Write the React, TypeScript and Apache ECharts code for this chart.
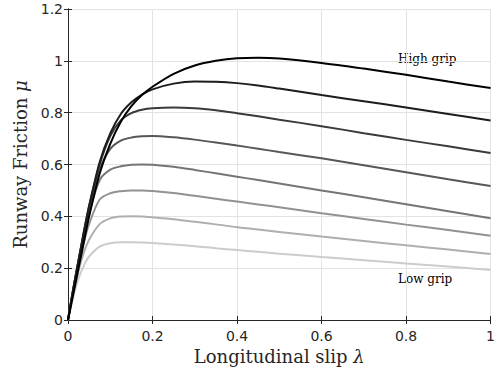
import React, { useEffect, useRef } from "react";
import * as echarts from "echarts";

const slip = [0, 0.0125, 0.025, 0.0375, 0.05, 0.075, 0.1, 0.125, 0.15, 0.175, 0.2, 0.25, 0.3, 0.35, 0.4, 0.45, 0.5, 0.6, 0.7, 0.8, 0.9, 1.0];

const mu1 = [0, 0.1, 0.2, 0.3, 0.4, 0.565, 0.68, 0.765, 0.825, 0.868, 0.9, 0.95, 0.982, 1.0, 1.01, 1.012, 1.009, 0.992, 0.97, 0.946, 0.92, 0.895];
const mu2 = [0, 0.12, 0.23, 0.34, 0.44, 0.61, 0.72, 0.795, 0.84, 0.87, 0.89, 0.912, 0.92, 0.919, 0.914, 0.905, 0.893, 0.868, 0.844, 0.82, 0.795, 0.77];
const mu3 = [0, 0.12, 0.23, 0.34, 0.44, 0.6, 0.71, 0.77, 0.798, 0.811, 0.817, 0.82, 0.817, 0.809, 0.798, 0.786, 0.773, 0.748, 0.721, 0.695, 0.67, 0.644];
const mu4 = [0, 0.12, 0.23, 0.33, 0.43, 0.58, 0.66, 0.692, 0.704, 0.709, 0.71, 0.705, 0.696, 0.685, 0.673, 0.661, 0.648, 0.624, 0.597, 0.57, 0.543, 0.517];
const mu5 = [0, 0.12, 0.23, 0.32, 0.41, 0.54, 0.58, 0.593, 0.599, 0.6, 0.599, 0.591, 0.579, 0.566, 0.553, 0.54, 0.527, 0.5, 0.474, 0.447, 0.42, 0.393];
const mu6 = [0, 0.11, 0.21, 0.3, 0.37, 0.465, 0.489, 0.497, 0.5, 0.5, 0.498, 0.49, 0.479, 0.468, 0.457, 0.446, 0.435, 0.412, 0.39, 0.368, 0.347, 0.325];
const mu7 = [0, 0.1, 0.19, 0.26, 0.31, 0.37, 0.392, 0.399, 0.4, 0.399, 0.396, 0.389, 0.379, 0.369, 0.358, 0.349, 0.34, 0.322, 0.305, 0.288, 0.272, 0.255];
const mu8 = [0, 0.09, 0.16, 0.21, 0.245, 0.283, 0.296, 0.3, 0.3, 0.299, 0.297, 0.291, 0.285, 0.277, 0.27, 0.263, 0.256, 0.243, 0.231, 0.218, 0.206, 0.193];

const curves = [mu1, mu2, mu3, mu4, mu5, mu6, mu7, mu8];
const shades = ["#000000", "#1d1d1d", "#3a3a3a", "#575757", "#757575", "#929292", "#afafaf", "#cccccc"];

const xTicks = { min: 0, max: 1, interval: 0.2 };
const yTicks = { min: 0, max: 1.2, interval: 0.2 };

const highLabel = "High grip";
const lowLabel = "Low grip";

export default function App() {
  const ref = useRef<HTMLDivElement>(null);
  useEffect(() => {
    if (!ref.current) return;
    const chart = echarts.init(ref.current, undefined, { renderer: "svg" });
    const axisColor = "#262626";
    const tickFont = { color: axisColor, fontSize: 14, fontFamily: "DejaVu Sans, sans-serif" };
    const serif = "DejaVu Serif, serif";
    const boxAxis = (extra: any) => ({
      type: "value",
      ...extra,
      axisLine: { show: true, lineStyle: { color: axisColor, width: 1 } },
      axisTick: { show: true, inside: true, length: 4, lineStyle: { color: axisColor } },
      axisLabel: { show: false },
      splitLine: { show: false },
    });
    const nameStyle = {
      fontFamily: serif,
      fontSize: 18,
      color: axisColor,
      rich: { i: { fontFamily: serif, fontStyle: "italic", fontSize: 18, color: axisColor } },
    };
    chart.setOption({
      animation: false,
      backgroundColor: "#ffffff",
      grid: { left: 68, right: 7, top: 9, bottom: 55, containLabel: false },
      xAxis: [
        {
          type: "value",
          ...xTicks,
          position: "bottom",
          name: "Longitudinal slip {i|λ}",
          nameLocation: "middle",
          nameGap: 18,
          nameTextStyle: nameStyle,
          axisLine: { show: true, lineStyle: { color: axisColor, width: 1 } },
          axisTick: { show: true, inside: true, length: 4, lineStyle: { color: axisColor } },
          axisLabel: { ...tickFont, margin: 9 },
          splitLine: { show: true, lineStyle: { color: "#e3e3e3", width: 1 } },
        },
        boxAxis({ ...xTicks, position: "top" }),
      ],
      yAxis: [
        {
          type: "value",
          ...yTicks,
          position: "left",
          name: "Runway Friction {i|μ}",
          nameLocation: "middle",
          nameGap: 28,
          nameTextStyle: nameStyle,
          axisLine: { show: true, lineStyle: { color: axisColor, width: 1 } },
          axisTick: { show: true, inside: true, length: 4, lineStyle: { color: axisColor } },
          axisLabel: { ...tickFont, margin: 5 },
          splitLine: { show: true, lineStyle: { color: "#e3e3e3", width: 1 } },
        },
        boxAxis({ ...yTicks, position: "right" }),
      ],
      series: curves.map((c, i) => ({
        type: "line",
        xAxisIndex: 0,
        yAxisIndex: 0,
        data: slip.map((s, j) => [s, c[j]]),
        showSymbol: false,
        smooth: 0.3,
        lineStyle: { color: shades[i], width: 2 },
        itemStyle: { color: shades[i] },
        z: 10 - i,
      })),
      graphic: [
        {
          type: "text",
          left: 398,
          top: 53,
          style: { text: highLabel, fontFamily: serif, fontSize: 12, fill: "#000" },
        },
        {
          type: "text",
          left: 398,
          top: 273,
          style: { text: lowLabel, fontFamily: serif, fontSize: 12, fill: "#000" },
        },
      ],
    });
    return () => chart.dispose();
  }, []);
  return <div ref={ref} style={{ width: 498, height: 375, position: "absolute", left: 0, top: 0 }} />;
}
